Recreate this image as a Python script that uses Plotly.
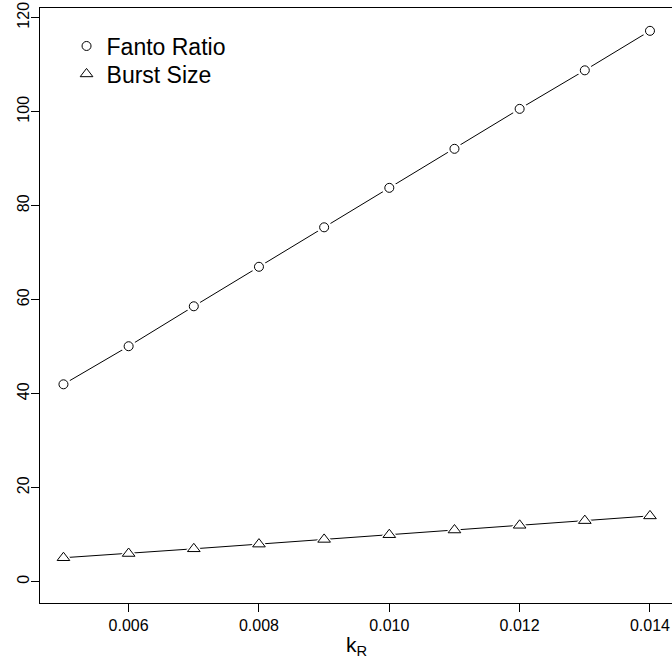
import plotly.graph_objects as go

k_R = [0.005, 0.006, 0.007, 0.008, 0.009, 0.010, 0.011, 0.012, 0.013, 0.014]
fanto_ratio = [42.0, 50.1, 58.6, 67.0, 75.4, 83.8, 92.1, 100.6, 108.8, 117.2]
burst_size = [5.1, 6.0, 7.0, 8.0, 9.0, 10.0, 11.0, 12.0, 13.0, 14.0]
x_ticks = [0.006, 0.008, 0.010, 0.012, 0.014]
y_ticks = [0, 20, 40, 60, 80, 100, 120]

FONT = "Liberation Sans, Arial, Helvetica, sans-serif"

fig = go.Figure()

for ys in (fanto_ratio, burst_size):
    fig.add_trace(go.Scatter(x=k_R, y=ys, mode="lines", line=dict(color="black", width=1),
                             showlegend=False, hoverinfo="skip"))
for ys, sym, sz in ((fanto_ratio, "circle", 15), (burst_size, "triangle-up", 17)):
    fig.add_trace(go.Scatter(x=k_R, y=ys, mode="markers",
                             marker=dict(symbol=sym, size=sz, color="white", line=dict(width=0)),
                             showlegend=False, hoverinfo="skip"))
fig.add_trace(go.Scatter(x=k_R, y=fanto_ratio, mode="markers", name="Fanto Ratio", legend="legend",
                         marker=dict(symbol="circle-open", size=9, color="black", line=dict(width=1))))
fig.add_trace(go.Scatter(x=k_R, y=burst_size, mode="markers", name="Burst Size", legend="legend2",
                         marker=dict(symbol="triangle-up-open", size=11, color="black", line=dict(width=1))))

fig.add_annotation(text="k<sub>R</sub>", xref="paper", yref="paper", x=0.5, y=-0.047,
                   xanchor="center", yanchor="top", showarrow=False,
                   font=dict(size=21, family=FONT, color="black"))

leg_common = dict(xanchor="left", yanchor="middle", font=dict(size=23, family=FONT),
                  bgcolor="rgba(0,0,0,0)", itemsizing="trace")

fig.update_layout(
    width=672, height=659,
    margin=dict(l=40, r=0, t=8, b=56, autoexpand=False),
    paper_bgcolor="white", plot_bgcolor="white",
    font=dict(family=FONT, color="black"),
    showlegend=True,
    legend=dict(x=0.042, y=0.9361, **leg_common),
    legend2=dict(x=0.042, y=0.8891, **leg_common),
    xaxis=dict(range=[0.00464, 0.014338], tickvals=x_ticks, tickformat=".3f",
               ticks="outside", ticklen=8, tickwidth=1, tickcolor="black",
               showline=True, linecolor="black", linewidth=1, mirror=True,
               showgrid=False, zeroline=False, automargin=False,
               tickfont=dict(size=16)),
    yaxis=dict(range=[-4.53, 122.06], tickvals=y_ticks,
               ticks="outside", ticklen=8, tickwidth=1, tickcolor="black",
               showline=True, linecolor="black", linewidth=1, mirror=False,
               showgrid=False, zeroline=False, tickangle=-90, automargin=False,
               ticklabelstandoff=-4,
               tickfont=dict(size=16)),
)

fig.write_html("out.html", config={"displayModeBar": False},
               post_script="document.body.style.margin='0px';")
